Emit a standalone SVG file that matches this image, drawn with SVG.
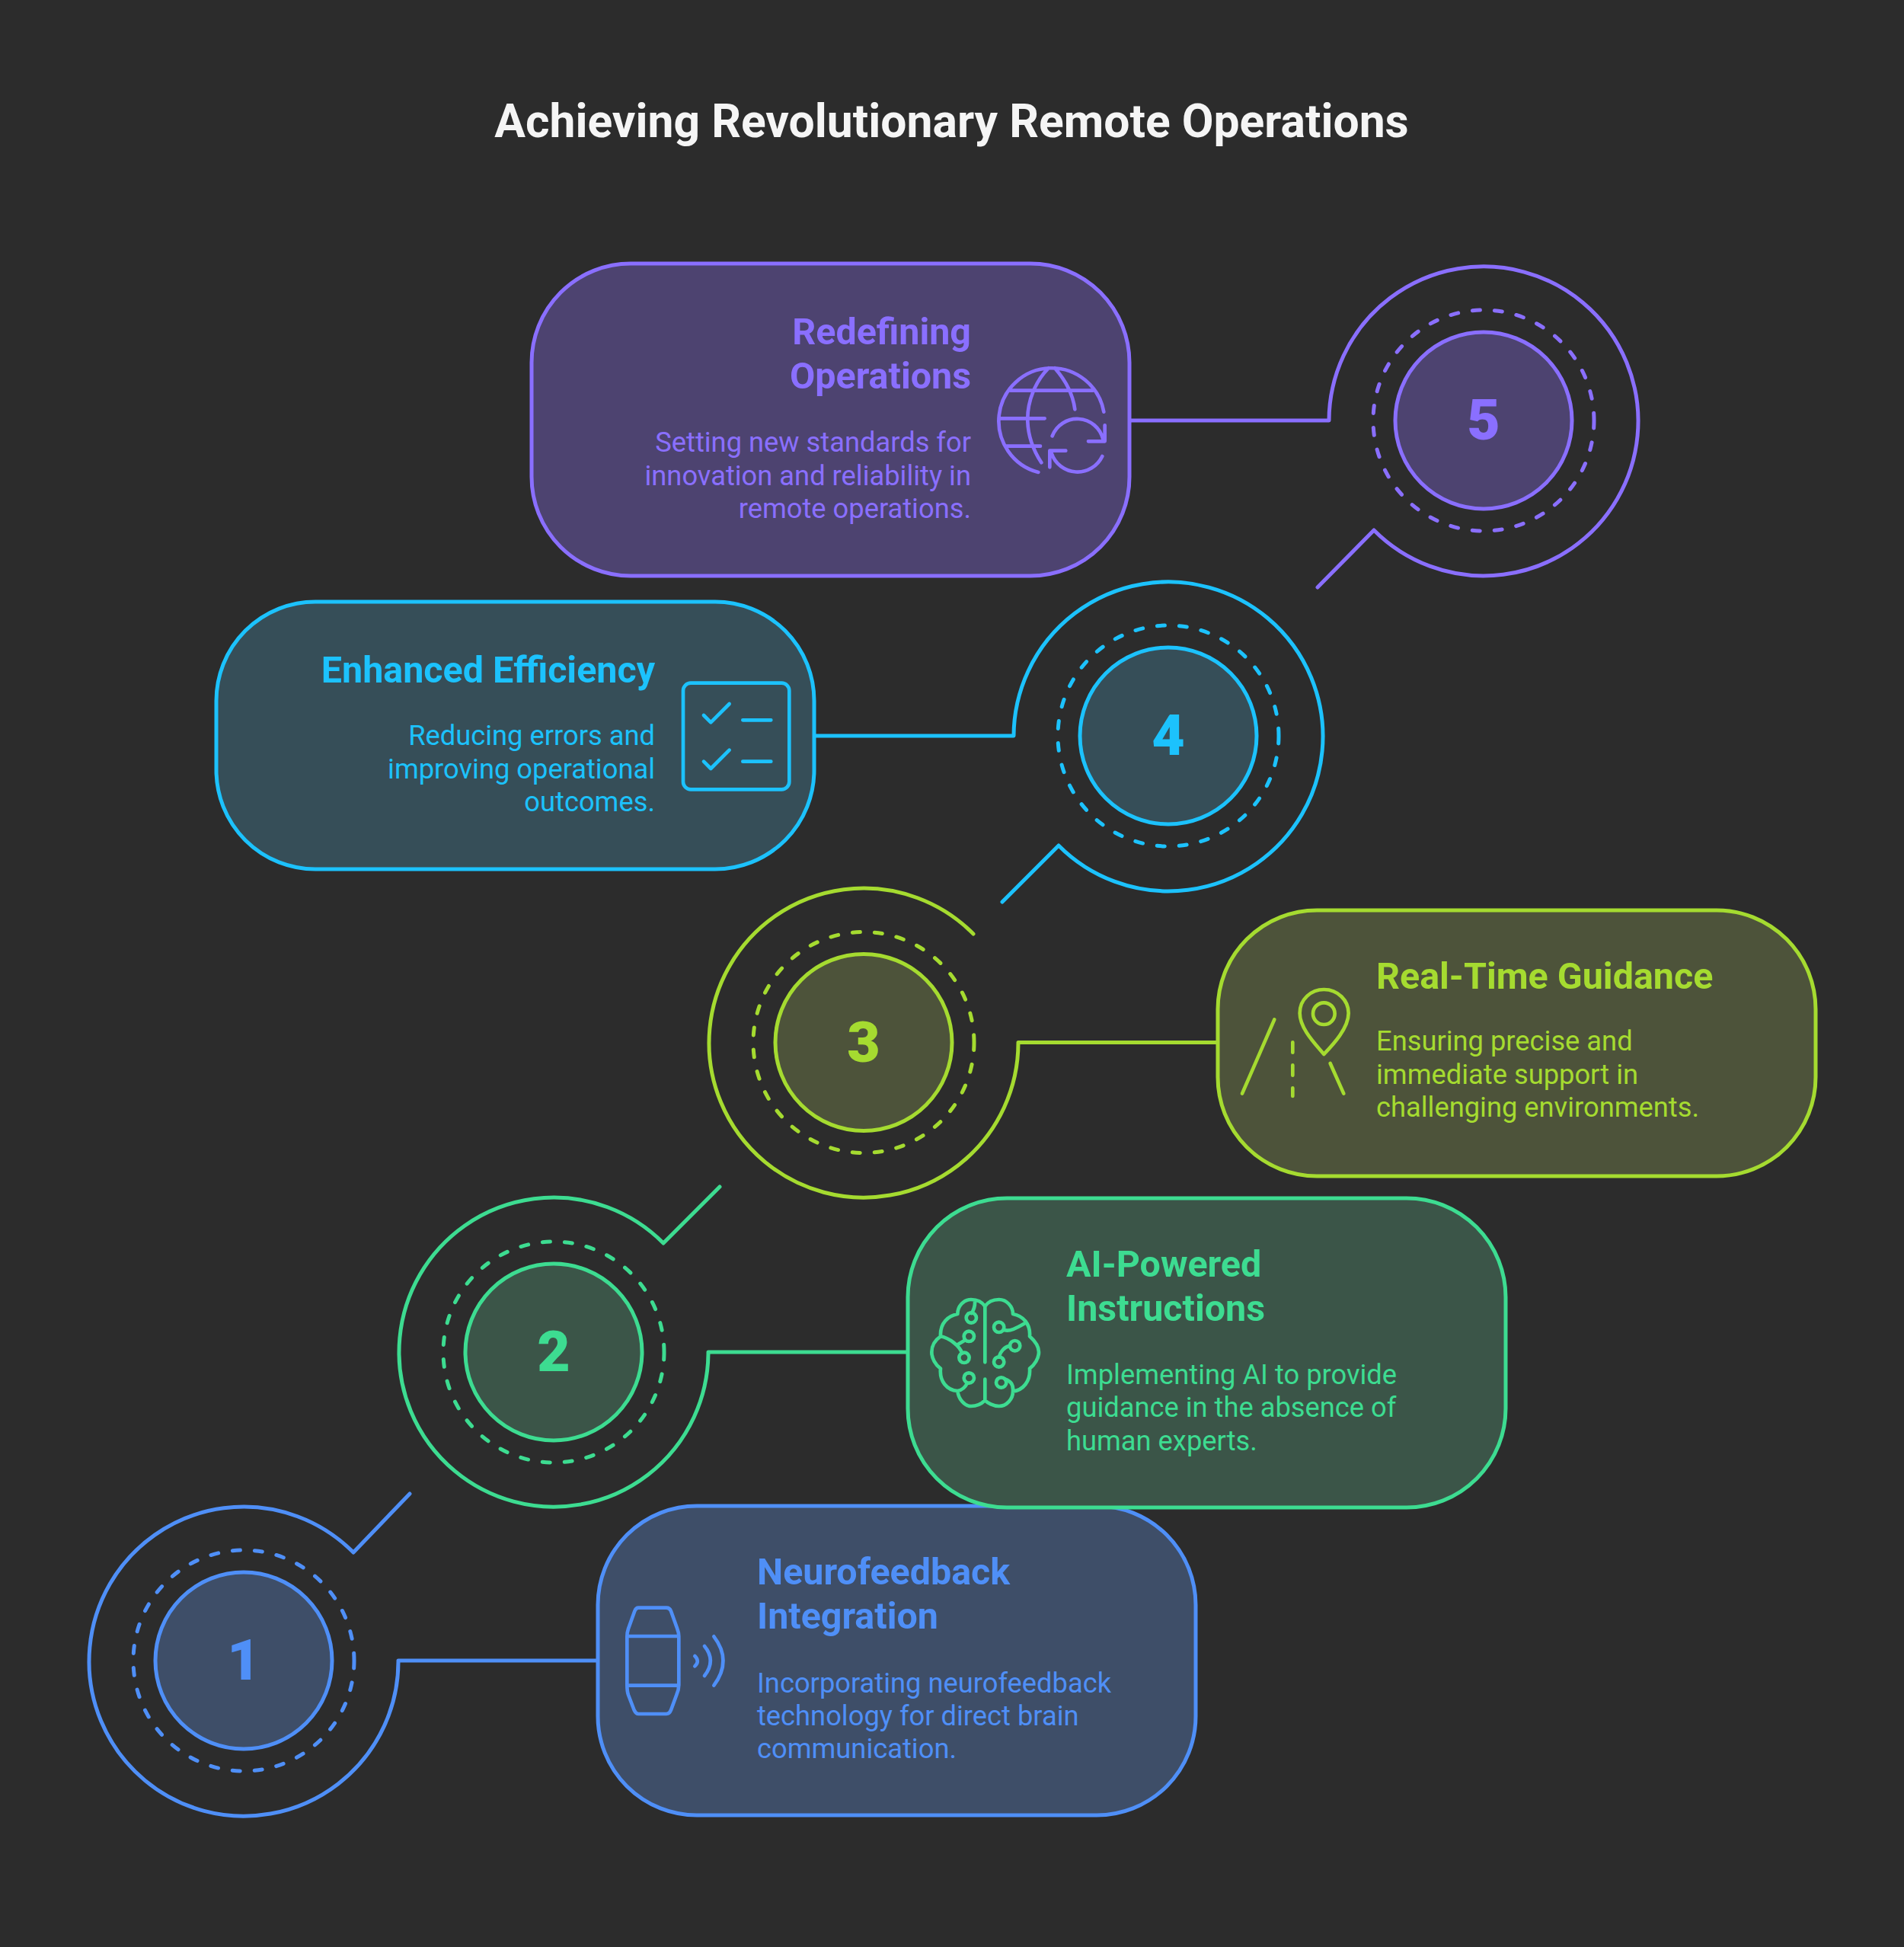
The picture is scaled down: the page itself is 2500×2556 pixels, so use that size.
<svg xmlns="http://www.w3.org/2000/svg" width="2500" height="2556" viewBox="0 0 2500 2556">
<style>
text{font-family:Roboto,"Liberation Sans",sans-serif}
.t{font-size:60.6px;font-weight:700;text-anchor:middle;fill:#f5f5f5}
.h{font-size:48.4px;font-weight:700}
.b{font-size:36.3px;font-weight:400}
.n{font-size:75px;font-weight:900;text-anchor:middle}
.e{text-anchor:end}
.l{fill:none;stroke-width:5;stroke-linecap:round;stroke-linejoin:round}
.d{fill:none;stroke-width:5;stroke-linecap:round;stroke-dasharray:10 19.06}
.ic{fill:none;stroke-width:14;stroke-linecap:round;stroke-linejoin:round}
</style>
<rect width="2500" height="2556" fill="#2c2c2c"/>
<text id="title" class="t" x="1249.500" y="180">Achieving Revolutionary Remote Operations</text>

<g id="connectors">
<path class="l" stroke="#4f8ff7" d="M784 2180H523A203 203 0 1 1 464 2038L538 1961"/>
<path class="l" stroke="#3ddc91" d="M1192 1775H930A203 203 0 1 1 871 1632L945 1558"/>
<path class="l" stroke="#a5db30" d="M1599 1368.500H1337A203 203 0 1 1 1278 1226"/>
<path class="l" stroke="#1cc2fd" d="M1069 966H1331A203 203 0 1 1 1390 1110L1316 1184"/>
<path class="l" stroke="#8a6fff" d="M1484 552H1745A203 203 0 1 1 1804 696L1730 771"/>
</g>

<g id="node-1">
<rect x="785" y="1977" width="785" height="406" rx="130" fill="#3e4e68" stroke="#4f8ff7" stroke-width="5"/>
<circle cx="320" cy="2180" r="116" fill="#3e4e68" stroke="#4f8ff7" stroke-width="5"/>
<circle class="d" cx="320" cy="2180" r="145" stroke="#4f8ff7"/>
<text class="n" x="320" y="2205" fill="#4f8ff7">1</text>
<g class="ic" stroke="#4f8ff7" transform="translate(780 2080) scale(.3333)"><path d="M175 92H285Q298 92 303 105L328 175Q334 190 334 205V395Q334 415 325 435L303 495Q297 510 285 510H175Q165 510 158 495L135 435Q130 420 130 395V205Q130 190 135 175L160 105Q165 92 175 92ZM130 204H334M130 398H334M397 282Q418 302 397 322M435 243Q482 300 435 360M472 205Q545 300 472 398"/></g>
<text class="h" x="994" y="2080" fill="#4f8ff7">Neurofeedback</text>
<text class="h" x="994" y="2138" fill="#4f8ff7">Integration</text>
<text class="b" x="994" y="2221.500" fill="#4f8ff7">Incorporating neurofeedback</text>
<text class="b" x="994" y="2265" fill="#4f8ff7">technology for direct brain</text>
<text class="b" x="994" y="2308" fill="#4f8ff7">communication.</text>
</g>

<g id="node-2">
<rect x="1192" y="1573" width="785" height="406" rx="130" fill="#3b5548" stroke="#3ddc91" stroke-width="5"/>
<circle cx="727" cy="1775" r="116" fill="#3b5548" stroke="#3ddc91" stroke-width="5"/>
<circle class="d" cx="727" cy="1775" r="145" stroke="#3ddc91"/>
<text class="n" x="727" y="1800" fill="#3ddc91">2</text>
<g class="ic" stroke="#3ddc91" transform="translate(1180 1620) scale(.3333)"><path d="M340 285C325 262 305 258 285 258C255 258 232 285 232 315C195 322 162 350 165 403C140 420 130 445 130 465C130 490 145 515 165 530C160 580 190 615 232 618C235 650 260 678 285 678C310 678 330 665 340 655C350 665 372 678 395 678C425 678 450 650 450 620C490 615 520 580 516 530C535 515 552 490 552 465C552 440 535 420 516 403C520 355 490 322 450 315C450 285 425 258 395 258C375 258 355 262 340 285ZM340 285V505M340 572V655M300 262C302 285 295 300 287 312M262 418L233 435M165 403C200 410 240 440 250 470M270 587C262 605 248 615 232 618M415 378C440 385 465 370 500 350M438 440C415 445 400 465 395 485M420 572C445 580 452 600 450 620"/><circle cx="286" cy="330" r="20"/><circle cx="277" cy="403" r="20"/><circle cx="258" cy="487" r="20"/><circle cx="277" cy="567" r="20"/><circle cx="395" cy="367" r="20"/><circle cx="458" cy="440" r="20"/><circle cx="395" cy="504" r="20"/><circle cx="404" cy="585" r="20"/></g>
<text class="h" x="1400" y="1676" fill="#3ddc91">AI-Powered</text>
<text class="h" x="1400" y="1734" fill="#3ddc91">Instructions</text>
<text class="b" x="1400" y="1816.500" fill="#3ddc91">Implementing AI to provide</text>
<text class="b" x="1400" y="1860" fill="#3ddc91">guidance in the absence of</text>
<text class="b" x="1400" y="1904" fill="#3ddc91">human experts.</text>
</g>

<g id="node-3">
<rect x="1599" y="1195" width="785" height="349" rx="130" fill="#4d533a" stroke="#a5db30" stroke-width="5"/>
<circle cx="1134" cy="1368.500" r="116" fill="#4d533a" stroke="#a5db30" stroke-width="5"/>
<circle class="d" cx="1134" cy="1368.500" r="145" stroke="#a5db30"/>
<text class="n" x="1134" y="1394" fill="#a5db30">3</text>
<g class="ic" stroke="#a5db30" transform="translate(1580 1240) scale(.3333)"><path d="M475 432C440 390 380 330 380 270C380 215 425 177 475 177C530 177 572 220 572 270C572 330 510 395 475 432ZM280 295L153 587M352 385V425M352 475V515M352 565V597M500 468L553 587"/><circle cx="475" cy="272" r="43"/></g>
<text class="h" x="1807" y="1298" fill="#a5db30">Real-Time Guidance</text>
<text class="b" x="1807" y="1379" fill="#a5db30">Ensuring precise and</text>
<text class="b" x="1807" y="1423" fill="#a5db30">immediate support in</text>
<text class="b" x="1807" y="1466" fill="#a5db30">challenging environments.</text>
</g>

<g id="node-4">
<rect x="284" y="790" width="785" height="351" rx="130" fill="#364e58" stroke="#1cc2fd" stroke-width="5"/>
<circle cx="1534" cy="966" r="116" fill="#364e58" stroke="#1cc2fd" stroke-width="5"/>
<circle class="d" cx="1534" cy="966" r="145" stroke="#1cc2fd"/>
<text class="n" x="1534" y="991" fill="#1cc2fd">4</text>
<g class="ic" stroke="#1cc2fd" transform="translate(860 860) scale(.3333)"><rect x="111" y="110" width="418" height="419" rx="30"/><path d="M192 237L220 265L293 192M192 419L220 447L293 374M346 256H457M346 419H457"/></g>
<text class="h e" x="860" y="896" fill="#1cc2fd">Enhanced Efficiency</text>
<text class="b e" x="860" y="978" fill="#1cc2fd">Reducing errors and</text>
<text class="b e" x="860" y="1022" fill="#1cc2fd">improving operational</text>
<text class="b e" x="860" y="1065" fill="#1cc2fd">outcomes.</text>
</g>

<g id="node-5">
<rect x="698" y="346" width="785" height="410" rx="130" fill="#4d4370" stroke="#8a6fff" stroke-width="5"/>
<circle cx="1948" cy="552" r="116" fill="#4d4370" stroke="#8a6fff" stroke-width="5"/>
<circle class="d" cx="1948" cy="552" r="145" stroke="#8a6fff"/>
<text class="n" x="1948" y="577" fill="#8a6fff">5</text>
<g class="ic" stroke="#8a6fff" transform="translate(1280 450) scale(.3333)"><path d="M250 510A208.500 208.500 0 1 1 508 272M140 188H465M95 298H275M125 407H258M290 100C240 150 205 230 208 310C210 370 235 430 262 472M315 100C350 140 385 190 394 262M305 367A105 105 0 0 1 505 380M512 325V388H447M502 447A108 108 0 0 1 302 435M295 490V425H358"/></g>
<text class="h e" x="1275" y="452" fill="#8a6fff">Redefining</text>
<text class="h e" x="1275" y="510" fill="#8a6fff">Operations</text>
<text class="b e" x="1275" y="593" fill="#8a6fff">Setting new standards for</text>
<text class="b e" x="1275" y="637" fill="#8a6fff">innovation and reliability in</text>
<text class="b e" x="1275" y="680" fill="#8a6fff">remote operations.</text>
</g>
</svg>
